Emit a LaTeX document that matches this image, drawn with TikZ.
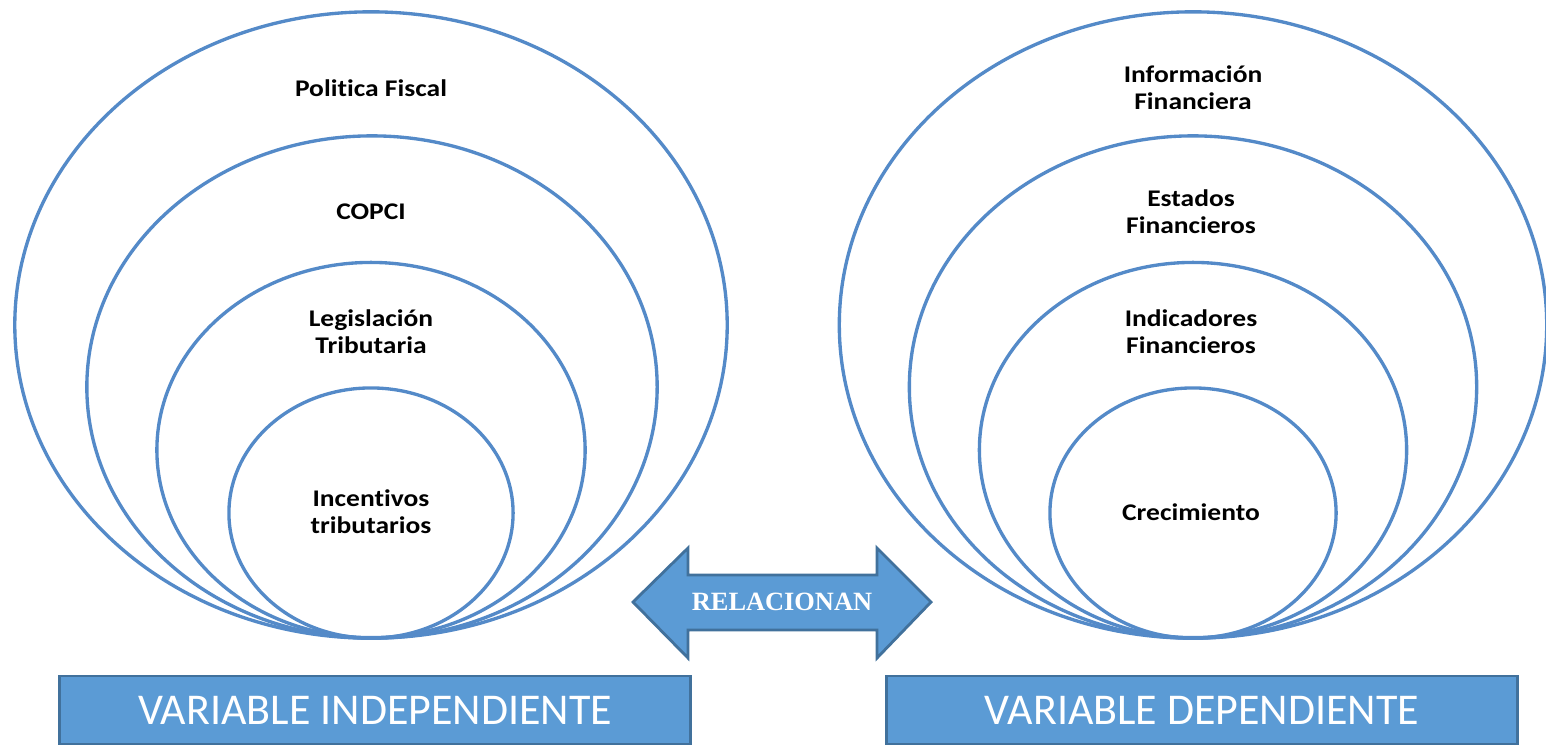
\documentclass[tikz,border=0pt]{standalone}
\usepackage{fontspec}
\setmainfont{Carlito}[Ligatures=NoCommon]
\newfontfamily\lblfont{Carlito}[FakeStretch=1.15, Ligatures=NoCommon]
\newfontfamily\tnrfont{Liberation Serif}
\usetikzlibrary{shapes.geometric}
\definecolor{ringc}{RGB}{84,138,200}
\definecolor{boxfill}{RGB}{91,155,213}
\definecolor{boxline}{RGB}{65,113,156}
\tikzset{
  ring/.style={draw=ringc, line width=0.95pt, ellipse, inner sep=0pt},
  lbl/.style={align=center, font=\lblfont\bfseries\fontsize{6.8}{7.7}\selectfont, inner sep=0pt},
  varbox/.style={draw=boxline, fill=boxfill, line width=0.8pt, inner sep=0pt, text=white,
    font=\fontsize{12.5}{14}\selectfont},
  arrowshape/.style={draw=boxline, fill=boxfill, line width=0.8pt, line join=miter},
}
\begin{document}
\begin{tikzpicture}[x=0.01cm, y=-0.01cm]
\useasboundingbox (0,0) rectangle (1546,744);
% left rings
\node[ring, minimum width=7.12cm, minimum height=6.26cm] (L1) at (371,325) {};
\node[ring, minimum width=5.70cm, minimum height=5.02cm] (L2) at (372,387) {};
\node[ring, minimum width=4.28cm, minimum height=3.75cm] (L3) at (371,450) {};
\node[ring, minimum width=2.84cm, minimum height=2.50cm] (L4) at (371,513) {};
% right rings
\node[ring, minimum width=7.07cm, minimum height=6.26cm] (R1) at (1193,325) {};
\node[ring, minimum width=5.67cm, minimum height=5.02cm] (R2) at (1193,387) {};
\node[ring, minimum width=4.27cm, minimum height=3.75cm] (R3) at (1193,450) {};
\node[ring, minimum width=2.86cm, minimum height=2.50cm] (R4) at (1193,513) {};
% labels left
\node[lbl] (t1) at (371,88) {Politica Fiscal};
\node[lbl] (t2) at (371,212) {COPCI};
\node[lbl] (t3) at (371,332) {Legislación\\Tributaria};
\node[lbl] (t4) at (371,512) {Incentivos\\tributarios};
% labels right
\node[lbl] (u1) at (1193,88) {Información\\Financiera};
\node[lbl] (u2) at (1191,212) {Estados\\Financieros};
\node[lbl] (u3) at (1191,332) {Indicadores\\Financieros};
\node[lbl] (u4) at (1191,512) {Crecimiento};
% double arrow
\draw[arrowshape] (633,602) -- (688,548) -- (688,575) -- (877,575) -- (877,548)
  -- (931,602) -- (877,658) -- (877,630) -- (688,630) -- (688,658) -- cycle;
\node[text=white, font=\tnrfont\bfseries\fontsize{7.5}{8}\selectfont, inner sep=0pt] (rel) at (782,602) {RELACIONAN};
% bottom boxes
\node[varbox, minimum width=6.30cm, minimum height=0.68cm] (vi) at (375,710) {VARIABLE INDEPENDIENTE};
\node[varbox, minimum width=6.30cm, minimum height=0.68cm] (vd) at (1202,710) {VARIABLE DEPENDIENTE};
\end{tikzpicture}
\end{document}
